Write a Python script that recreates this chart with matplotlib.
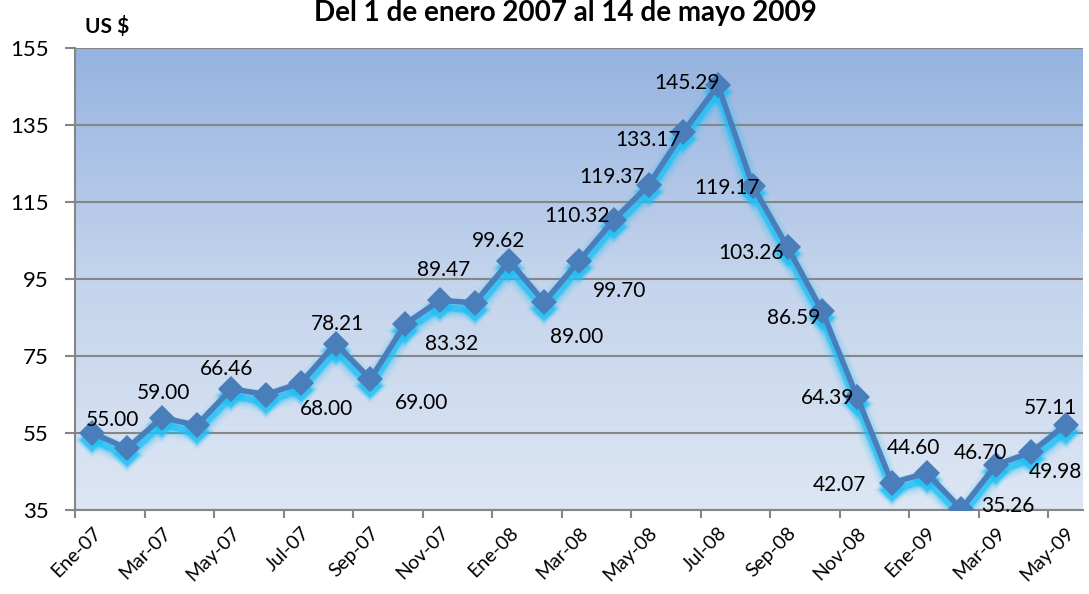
import numpy as np
import matplotlib
matplotlib.use("Agg")
import matplotlib.pyplot as plt
import matplotlib.transforms as mtransforms
from matplotlib.colors import LinearSegmentedColormap

# 月ごとの価格 (Ene-07 .. May-09)
months = ["Ene-07", "Feb-07", "Mar-07", "Abr-07", "May-07", "Jun-07", "Jul-07", "Ago-07",
          "Sep-07", "Oct-07", "Nov-07", "Dic-07", "Ene-08", "Feb-08", "Mar-08", "Abr-08",
          "May-08", "Jun-08", "Jul-08", "Ago-08", "Sep-08", "Oct-08", "Nov-08", "Dic-08",
          "Ene-09", "Feb-09", "Mar-09", "Abr-09", "May-09"]
prices = [55.00, 51.0, 59.00, 57.0, 66.46, 65.0, 68.00, 78.21, 69.00, 83.32, 89.47, 88.8,
          99.62, 89.00, 99.70, 110.32, 119.37, 133.17, 145.29, 119.17, 103.26, 86.59, 64.39,
          42.07, 44.60, 35.26, 46.70, 49.98, 57.11]
labeled = [True, False, True, False, True, False, True, True, True, True, True, False,
           True, True, True, True, True, True, True, True, True, True, True, True,
           True, True, True, True, True]
y_ticks = [35, 55, 75, 95, 115, 135, 155]

title = "Del 1 de enero 2007 al 14 de mayo 2009"
unit_label = "US $"

# ラベル位置 (pixel offset from point)
label_offsets = [(20, 13), None, (2, 25), None, (-5, 20), None, (26, -26), (2, 20),
                 (51, -24), (46, -20), (4, 30), None, (-11, 20), (32, -35), (41, -30),
                 (-37, 4), (-37, 8), (-35, -8), (-31, 2), (-26, -2), (-37, -6), (-29, -7),
                 (-30, -1), (-52, -2), (-13, 25), (46, 3), (-16, 12), (25, -20), (-15, 17)]

plt.rcParams["font.family"] = ["Lato", "DejaVu Sans"]

fig = plt.figure(figsize=(10.89, 5.94), dpi=100)
ax = fig.add_axes([75 / 1089, 1 - 510 / 594, 1008 / 1089, 462 / 594])

n = len(prices)
x = np.arange(n) + 0.5

# 背景グラデーション
cmap = LinearSegmentedColormap.from_list("bg", ["#dde6f3", "#c4d4ec", "#95b3e0"])
grad = np.linspace(0, 1, 256).reshape(-1, 1)
ax.imshow(grad, extent=[0, n, 35, 155], origin="lower", aspect="auto", cmap=cmap, zorder=0)

# 水色のグロー
glow_tr = mtransforms.offset_copy(ax.transData, fig=fig, x=0, y=-7, units="dots")
for lw, a in [(16, 0.08), (12, 0.15), (8, 0.3), (5, 0.7)]:
    ax.plot(x, prices, color="#1fc0f5", lw=lw, alpha=a, transform=glow_tr,
            solid_joinstyle="round", solid_capstyle="round", zorder=2)
    ax.plot(x, prices, ls="none", marker="D", ms=9 + lw * 0.6, color="#1fc0f5",
            alpha=a, transform=glow_tr, zorder=2, markeredgewidth=0)

ax.plot(x, prices, color="#4a7ebb", lw=4, marker="D", ms=13, markeredgewidth=0,
        solid_joinstyle="round", zorder=3)

for xi, v, show, off in zip(x, prices, labeled, label_offsets):
    if not show:
        continue
    ax.annotate(f"{v:.2f}", (xi, v), xytext=(off[0], off[1]), textcoords="offset pixels",
                ha="center", va="center", fontsize=15, color="#000000", zorder=5)

ax.set_xlim(0, n)
ax.set_ylim(35, 155)
ax.set_yticks(y_ticks)
ax.set_yticklabels([str(t) for t in y_ticks])
ax.yaxis.grid(True, color="#868686", lw=1.5)
ax.set_axisbelow(True)

ax.set_xticks(np.arange(0, n, 2))
ax.set_xticklabels([])
ax.set_xticks(x[::2], minor=True)
ax.set_xticklabels(months[::2], minor=True, rotation=45, ha="right", va="top",
                   rotation_mode="anchor", fontsize=14)
ax.tick_params(axis="x", which="minor", length=0, pad=10)
ax.tick_params(axis="x", which="major", length=6, color="#868686", width=1.5)
ax.tick_params(axis="y", length=7, color="#868686", width=1.5, labelsize=16, pad=12)

for s in ["top", "right"]:
    ax.spines[s].set_visible(False)
for s in ["left", "bottom"]:
    ax.spines[s].set_color("#868686")
    ax.spines[s].set_linewidth(1.5)

fig.text(565 / 1089, 1 - 13 / 594, title, ha="center", va="center", fontsize=20,
         fontweight="bold")
fig.text(85 / 1089, 1 - 27 / 594, unit_label, ha="left", va="center", fontsize=15,
         fontweight="bold")

fig.savefig("out.png", dpi=100)
